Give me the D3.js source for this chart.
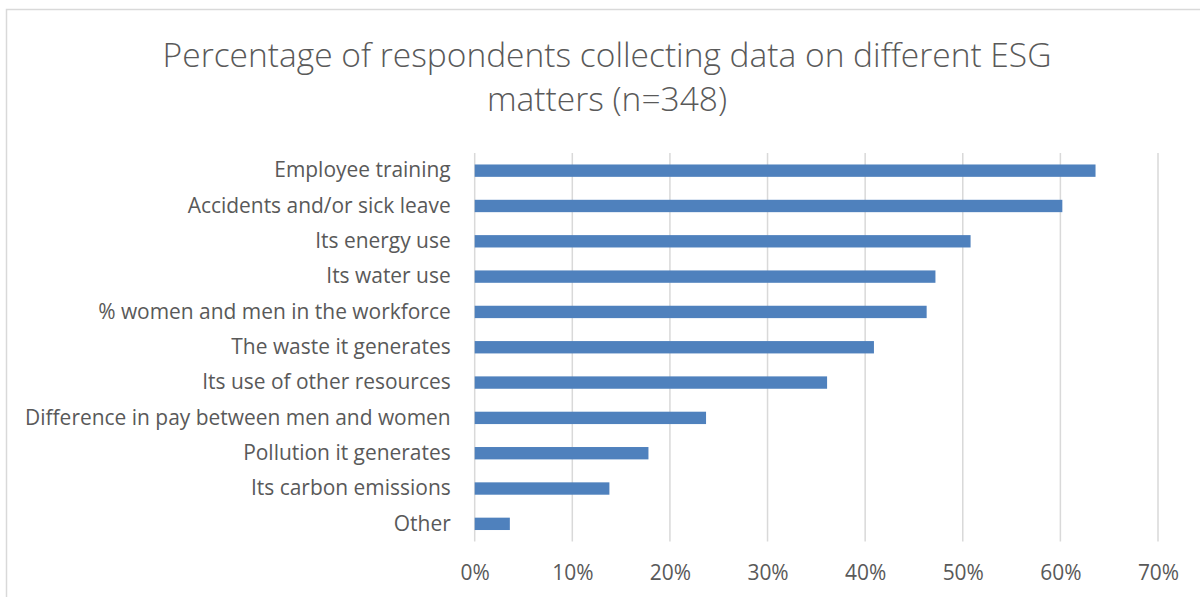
<!DOCTYPE html>
<html>
<head>
<meta charset="utf-8">
<script src="https://cdn.jsdelivr.net/npm/d3@7"></script>
<style>
  html, body { margin: 0; padding: 0; background: #fff; }
  svg { display: block; }
</style>
</head>
<body>
<svg id="chart" width="1200" height="597"></svg>
<script>
const titleLines = ["Percentage of respondents collecting data on different ESG", "matters (n=348)"];
const categories = [
  "Employee training",
  "Accidents and/or sick leave",
  "Its energy use",
  "Its water use",
  "% women and men in the workforce",
  "The waste it generates",
  "Its use of other resources",
  "Difference in pay between men and women",
  "Pollution it generates",
  "Its carbon emissions",
  "Other"
];
const values = [0.636, 0.602, 0.508, 0.472, 0.463, 0.409, 0.361, 0.237, 0.178, 0.138, 0.036];
const tickValues = [0, 0.1, 0.2, 0.3, 0.4, 0.5, 0.6, 0.7];

const svg = d3.select("#chart");
const font = "'Open Sans', 'Noto Sans', sans-serif";
const textColor = "#595959";

// outer border
svg.append("path")
  .attr("d", "M6.5,597 L6.5,9.5 L1200,9.5")
  .attr("fill", "none").attr("stroke", "#d9d9d9").attr("stroke-width", 1.5);

const x = d3.scaleLinear().domain([0, 0.7]).range([474.7, 1158]);
const y = d3.scaleBand().domain(categories).range([153, 541.5]).paddingInner(0.65).paddingOuter(0.325);

// helper: fit font size so that a text reaches a target width
function fitSize(text, target, weight) {
  const t = svg.append("text").style("font-family", font).style("font-weight", weight || 400)
    .style("font-size", "100px").text(text);
  const w = t.node().getComputedTextLength();
  t.remove();
  return 100 * target / w;
}

const labelSize = Math.min(fitSize("Difference in pay between men and women", 426), 21);
const titleSize = fitSize(titleLines[0], 889, 300);

// gridlines
svg.append("g")
  .selectAll("line")
  .data(tickValues)
  .join("line")
  .attr("x1", d => x(d)).attr("x2", d => x(d))
  .attr("y1", 153).attr("y2", 541.5)
  .attr("stroke", "#d9d9d9").attr("stroke-width", 1.5);

// bars
svg.append("g")
  .selectAll("rect")
  .data(values)
  .join("rect")
  .attr("x", x(0))
  .attr("y", (d, i) => y(categories[i]))
  .attr("width", d => x(d) - x(0))
  .attr("height", y.bandwidth())
  .attr("fill", "#4f81bd");

// category labels
const yAxis = svg.append("g").attr("transform", `translate(${x(0)},0)`)
  .call(d3.axisLeft(y).tickSize(0).tickPadding(24));
yAxis.select(".domain").remove();
yAxis.selectAll("text")
  .style("font-family", font).style("font-size", labelSize + "px").attr("fill", textColor);

// x axis
const xAxis = svg.append("g").attr("transform", `translate(0,541.5)`)
  .call(d3.axisBottom(x).tickValues(tickValues).tickFormat(d3.format(".0%")).tickSize(0).tickPadding(24));
xAxis.select(".domain").remove();
xAxis.selectAll("text")
  .style("font-family", font).style("font-size", labelSize + "px").attr("fill", textColor);

// title
svg.append("g").selectAll("text")
  .data(titleLines)
  .join("text")
  .attr("x", 607)
  .attr("y", (d, i) => 67 + i * 44)
  .attr("text-anchor", "middle")
  .style("font-family", font).style("font-weight", 300).style("font-size", titleSize + "px")
  .attr("fill", textColor)
  .text(d => d);
</script>
</body>
</html>
